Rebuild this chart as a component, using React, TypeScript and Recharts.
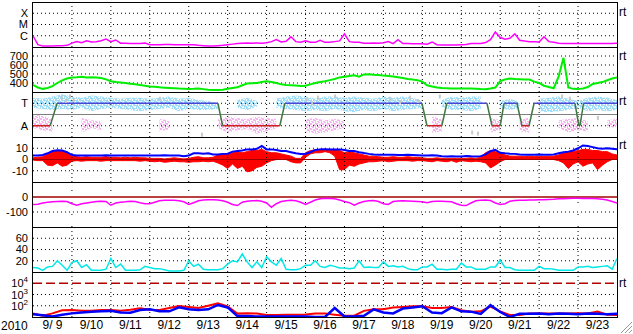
import React from 'react';
import { ComposedChart, Line, Area, Scatter, XAxis, YAxis, ReferenceLine } from 'recharts';

// ---------- categories / ticks ----------
const DAY_LABELS = ['9/ 9', '9/10', '9/11', '9/12', '9/13', '9/14', '9/15', '9/16', '9/17', '9/18', '9/19', '9/20', '9/21', '9/22', '9/23'];
const YEAR_LABEL = '2010';
const XRAY_TICKS = [1e-4, 1e-5, 1e-6];
const XRAY_CLASSES = ['X', 'M', 'C'];
const SPEED_TICKS = [700, 600, 500, 400];
const SECTOR_TICKS = [3, 1];
const SECTOR_NAMES = ['T', 'A'];
const B_TICKS = [10, 0, -10];
const DST_TICKS = [0, -100];
const P6_TICKS = [60, 40, 20];
const FLUX_TICKS = [1e4, 1e3, 1e2];

// ---------- 3-hour series (121 samples, 9/9 00UT .. 9/24 00UT) ----------
const XRAY = [
  1.0e-6, 1.6e-7, 1.2e-7, 1.2e-7, 1.2e-7, 1.3e-7, 1.3e-7, 1.4e-7,
  2.2e-7, 3.0e-7, 2.4e-7, 3.6e-7, 2.8e-7, 3.0e-7, 3.6e-7, 5.0e-7,
  3.0e-7, 4.2e-7, 2.2e-7, 2.2e-7, 2.1e-7, 2.1e-7, 2.1e-7, 2.3e-7,
  1.6e-7, 1.6e-7, 1.6e-7, 1.7e-7, 1.7e-7, 1.6e-7, 1.6e-7, 1.6e-7,
  1.6e-7, 1.6e-7, 1.4e-7, 1.3e-7, 1.2e-7, 1.2e-7, 1.3e-7, 1.4e-7,
  1.6e-7, 1.8e-7, 2.0e-7, 2.2e-7, 2.3e-7, 2.2e-7, 2.3e-7, 2.2e-7,
  2.4e-7, 3.0e-7, 4.5e-7, 2.8e-7, 3.2e-7, 8.0e-7, 3.0e-7, 2.6e-7,
  3.6e-7, 2.6e-7, 2.6e-7, 4.0e-7, 2.6e-7, 2.6e-7, 3.0e-7, 3.5e-7,
  1.5e-6, 3.0e-7, 2.6e-7, 2.6e-7, 2.2e-7, 2.2e-7, 2.3e-7, 2.2e-7,
  2.4e-7, 3.0e-7, 2.0e-7, 4.5e-7, 2.0e-7, 2.0e-7, 1.9e-7, 1.9e-7,
  1.9e-7, 1.8e-7, 2.8e-7, 1.6e-7, 1.5e-7, 1.5e-7, 1.5e-7, 1.5e-7,
  1.6e-7, 1.7e-7, 2.0e-7, 2.1e-7, 2.1e-7, 2.5e-7, 4.5e-7, 2.2e-6,
  7.0e-7, 5.0e-7, 6.0e-7, 1.5e-6, 4.0e-7, 3.4e-7, 3.0e-7, 3.0e-7,
  2.8e-7, 8.0e-7, 3.0e-7, 2.6e-7, 2.2e-7, 2.1e-7, 2.1e-7, 2.0e-7,
  2.1e-7, 2.1e-7, 2.0e-7, 2.1e-7, 2.1e-7, 2.0e-7, 2.1e-7, 2.1e-7,
  2.2e-7,
];
const SPEED = [
  378, 350, 335, 345, 365, 400, 430, 450,
  462, 465, 470, 462, 465, 462, 455, 440,
  420, 410, 405, 400, 392, 385, 378, 370,
  362, 358, 352, 348, 345, 342, 338, 336,
  334, 335, 338, 332, 325, 322, 322, 325,
  335, 345, 352, 375, 395, 398, 400, 412,
  420, 412, 400, 385, 378, 375, 372, 368,
  370, 385, 400, 412, 420, 432, 445, 462,
  470, 478, 485, 470, 495, 498, 492, 488,
  482, 478, 472, 465, 455, 445, 440, 430,
  415, 375, 362, 350, 345, 342, 340, 338,
  340, 340, 338, 336, 332, 330, 338, 350,
  420, 440, 450, 445, 442, 440, 438, 415,
  400, 370, 355, 342, 470, 680, 350, 335,
  332, 340, 355, 390, 400, 410, 430, 450,
  462,
];
const BT = [
  3.6, 3.6, 4, 5.5, 7.5, 8.2, 8, 6.5,
  4, 3.6, 3.6, 3.6, 3.5, 3.6, 3.6, 3.7,
  3.6, 3.6, 3.5, 3.6, 3.6, 3.6, 3.5, 3.5,
  3.6, 3.6, 3.6, 3.7, 3.6, 3.6, 3.5, 2.8,
  3.5, 5.5, 5.5, 5.2, 5.6, 4.5, 4.5, 5,
  5.2, 7, 7.5, 8, 9, 9, 9.5, 12,
  9, 9, 8.5, 7.5, 7.5, 6.5, 5.5, 5,
  5.2, 6.5, 8.5, 9, 9.2, 9, 9, 9,
  8.5, 7.5, 7.5, 6.5, 5.7, 5, 4.5, 4.2,
  4.2, 4.3, 4.2, 4, 4, 4.2, 4, 3.8,
  3.6, 3.6, 3.8, 3.6, 2.8, 2.7, 2.8, 2.6,
  2.7, 3, 2.8, 2.7, 3, 4.5, 7.5, 8.5,
  6, 5.5, 5.2, 5, 4.5, 4.2, 4.2, 4.2,
  4.4, 4.2, 4.2, 4.5, 5.5, 6.5, 7, 8,
  10, 12.5, 12, 11, 10, 9.5, 10, 9.5,
  9,
];
const BZ_MIN = [
  -0.5, -1, -1, -5, -5.5, -3, -6, -5,
  -1.5, -1, -1.5, -1, -1, -1, -1.5, -1,
  -1, -1, -1, -1, -1, -1, -1.5, -1,
  -1.5, -2, -1.5, -2.5, -2, -1.5, -2, -2,
  -2.5, -2, -2, -1.5, -2, -1.5, -3, -5,
  -8, -4, -8, -6, -11, -10, -7, -6,
  -3, -1, 0, 1, 0, -2, -3, -3,
  2, 5, 6, 6, 7, 6, 3, -9,
  -9, -5, -6, -4, -3, -2, -2, -1.5,
  -1, -2, -1.5, -1, -1, -1, -1.5, -1,
  -1, -1.5, -2, -1, -1.5, -2, -1, -2.5,
  -1, -1.5, -2, -1.5, -2, -3, -7.5, -5,
  -2, 0, 0, 0.5, 0, 0, 0, 0,
  0, 0, 0, 0, -1, -3, -8, -4,
  -2, -6, -4, -3, -9, -5, -2, 0,
  1,
];
const BZ_MAX = [
  1.5, 2, 2.5, 5, 7, 8, 7.5, 6,
  3, 2.5, 2, 2.5, 2, 2, 2, 2.5,
  2, 2, 1.5, 2, 1.5, 2, 1.5, 1.5,
  1, 1, 1, 0.5, 1, 1.5, 1, 0.5,
  1, 2, 2.5, 1.5, 1.5, 2, 4, 5,
  5, 6, 7, 6, 7, 8, 8, 9,
  7, 6, 6, 5, 4, 3, 1, 1,
  6, 8, 8.5, 9, 9, 9, 8.5, 8,
  6, 7, 6, 5, 4, 3, 3, 2.5,
  2, 2, 2.5, 2, 2, 2.5, 2, 2,
  1.5, 1, 1, 1.5, 1, 1, 1, 1,
  1, 1, 1.5, 1, 2, 6, 8, 7,
  6, 4, 3, 3, 3, 2.5, 3, 2.5,
  3, 2.5, 3, 3, 4, 6, 7, 7,
  8, 9, 9, 8, 8, 7, 7, 5,
  4,
];
const DST = [
  -50, -48, -40, -35, -32, -30, -28, -30,
  -45, -55, -45, -40, -35, -30, -28, -30,
  -55, -40, -35, -32, -28, -30, -38, -45,
  -45, -35, -25, -22, -22, -22, -25, -32,
  -50, -38, -25, -20, -18, -18, -20, -25,
  -35, -50, -57, -35, -28, -25, -24, -28,
  -40, -68, -45, -30, -25, -22, -25, -35,
  -50, -35, -20, -12, -8, -10, -12, -20,
  -30, -38, -55, -40, -30, -25, -24, -30,
  -45, -50, -30, -26, -25, -26, -28, -30,
  -32, -38, -30, -28, -28, -30, -32, -45,
  -55, -57, -40, -25, -22, -20, -24, -40,
  -50, -45, -28, -24, -22, -22, -20, -20,
  -18, -18, -16, -15, -12, -12, -10, -9,
  -8, -10, -8, -10, -12, -15, -20, -30,
  -40,
];
const PANEL6 = [
  8, 7, 3, 9, 10, 20, 12, 3,
  17, 20, 8, 13, 3, 3, 3, 5,
  24, 8, 14, 3, 3, 3, 4, 10,
  8, 6, 6, 4, 2, 2, 2, 3,
  20, 10, 14, 5, 4, 4, 4, 6,
  14, 20, 18, 32, 18, 8, 18, 8,
  27, 18, 12, 24, 5, 4, 4, 6,
  12, 12, 20, 10, 8, 12, 10, 7,
  7, 6, 7, 20, 8, 9, 8, 8,
  18, 10, 11, 9, 10, 6, 4, 4,
  9, 9, 14, 5, 5, 4, 5, 5,
  16, 9, 9, 5, 5, 5, 9, 9,
  21, 8, 8, 4, 3, 3, 3, 3,
  10, 6, 6, 5, 3, 3, 3, 3,
  9, 9, 10, 8, 9, 10, 11, 5,
  24,
];

// ---------- 6-hour series (61 samples) ----------
const CYAN_LO = [
  2.6, 2.5, 2.4, 2.5, 2.4, 2.6, 2.3, 2.5, 2.6, 2.5,
  2.4, 2.3, 2.4, 2.5, 2.6, 2.3, 2.5, 2.4, 2.4, 2.5,
  null, 2.6, 2.4, 2.7, null, 2.6, 2.5, 2.4, 2.3, 2.4,
  2.3, 2.5, 2.3, 2.2, 2.4, 2.3, 2.5, 2.3, 2.4, 2.5,
  2.6, null, 2.7, 2.4, 2.4, 2.3, 2.5, null, 2.6, 2.4,
  2.6, null, 2.3, 2.2, 2.3, 2.4, 2.6, 2.3, 2.4, 2.3,
  2.4,
];
const CYAN_HI = [
  3.5, 3.4, 3.6, 3.8, 3.6, 3.5, 3.7, 3.6, 3.5, 3.4,
  3.5, 3.5, 3.4, 3.5, 3.6, 3.4, 3.5, 3.3, 3.2, 3.0,
  null, 3.3, 3.5, 3.2, null, 3.4, 3.6, 3.7, 3.6, 3.4,
  3.6, 3.6, 3.5, 3.6, 3.5, 3.4, 3.6, 3.5, 3.6, 3.5,
  3.2, null, 3.3, 3.6, 3.5, 3.6, 3.6, null, 3.2, 3.4,
  3.1, null, 3.4, 3.5, 3.6, 3.4, 3.2, 3.5, 3.6, 3.5,
  3.3,
];
const PINK_LO = [
  0.8, 0.6, 0.5, null, null, 0.4, 0.8, 0.6, null, null,
  null, null, null, 0.5, 0.7, null, null, null, null, 0.8,
  0.4, 0.6, 0.7, 0.3, 0.5, 0.8, null, null, 0.5, 0.3,
  0.4, 0.6, 0.8, null, null, null, null, null, null, null,
  null, 0.4, 0.5, null, null, null, null, 0.4, 0.6, null,
  0.5, 0.4, null, null, 0.8, 0.4, 0.6, 0.5, null, 0.8,
  0.9,
];
const PINK_HI = [
  2.0, 1.9, 1.6, null, null, 1.7, 1.5, 1.4, null, null,
  null, null, null, 1.6, 1.5, null, null, null, null, 1.6,
  1.8, 1.7, 1.6, 1.8, 1.7, 1.6, null, null, 1.6, 1.7,
  1.5, 1.6, 1.5, null, null, null, null, null, null, null,
  null, 1.8, 1.6, null, null, null, null, 1.7, 1.5, null,
  1.6, 1.7, null, null, 1.5, 1.6, 1.7, 1.4, null, 1.5,
  1.6,
];
const E_RED = [
  21, 13, 21, 40, 42, 36, 36, 42, 42, 36,
  45, 59, 45, 42, 63, 95, 79, 63, 100, 166,
  89, 20, 22, 20, 15, 15, 16, 16, 17, 20,
  20, 16, 13, 13, 35, 48, 50, 71, 79, 89,
  89, 63, 63, 79, 40, 30, 32, 83, 32, 15,
  15, 20, 21, 21, 21, 21, 22, 21, 30, 16,
  15,
];
const E_BLUE = [
  18, 14, 11, 16, 21, 25, 30, 32, 35, 25,
  24, 42, 48, 32, 32, 72, 50, 42, 48, 117,
  71, 12, 12, 11, 11, 11, 11, 11, 11, 10,
  10, 63, 11, 11, 13, 48, 25, 21, 56, 71,
  89, 25, 22, 72, 32, 30, 19, 112, 28, 10,
  19, 19, 20, 18, 20, 19, 18, 20, 19, 18,
  19,
];

// ---------- sector polarity (breakpoints, day since 9/9 00UT; 3 = T, 1 = A) ----------
const SECTOR_DAYS = [0, 0.44, 0.62, 4.75, 4.87, 6.34, 6.47, 9.99, 10.12, 10.5, 10.63, 11.66, 11.79, 12.0, 12.1, 12.43, 12.56, 12.74, 12.87, 13.92, 14.02, 14.05, 14.14, 15];
const SECTOR_LEVELS = [1, 1, 3, 3, 1, 1, 3, 3, 1, 1, 3, 3, 1, 1, 3, 3, 1, 1, 3, 3, 1, 1, 3, 3];
const GRAY_DAYS = [0.74, 0.85, 0.95, 1.05, 3.26, 4.34, 7.01, 7.17, 7.32, 7.76, 9.17, 9.43, 9.68, 9.89, 10.45, 11.28, 11.43, 13.59, 13.79, 14.51];
const GRAY_LEVELS = [3.5, 3.2, 3.6, 3.3, 3.4, 0.2, 3.3, 3.0, 3.5, 3.6, 3.4, 3.1, 3.5, 3.2, 3.6, 0.4, 0.3, 3.6, 3.4, 1.7];

// ---------- layout ----------
const W = 633;
const FONT = '"Liberation Sans", Arial, Helvetica, sans-serif';
const tickStyle = { fontSize: 11, fill: '#000', fontFamily: FONT };
const xTickStyle = { fontSize: 12, fill: '#000', fontFamily: FONT };
const LABEL_TICKS = DAY_LABELS.map((_, i) => i + 0.5);
const DAY_GRID = DAY_LABELS.slice(1).map((_, i) => i + 1);
const PANEL_TOPS = [2, 47, 92, 137, 182, 227, 272];

const rows3h = XRAY.map((_, i) => ({
  d: i / 8,
  xray: XRAY[i],
  speed: SPEED[i],
  bt: BT[i],
  bz: [BZ_MIN[i], BZ_MAX[i]],
  dst: DST[i],
  p6: PANEL6[i],
}));
const rows6h = CYAN_LO.map((_, j) => ({
  d: j / 4,
  cyan: CYAN_LO[j] == null ? null : [CYAN_LO[j], CYAN_HI[j]],
  pink: PINK_LO[j] == null ? null : [PINK_LO[j], PINK_HI[j]],
  eRed: E_RED[j],
  eBlue: E_BLUE[j],
}));

function sectorSegments(kind: 'T' | 'A' | 'X') {
  const out: { d: number; v: number | null }[] = [];
  for (let k = 0; k < SECTOR_DAYS.length - 1; k++) {
    const a = SECTOR_LEVELS[k];
    const b = SECTOR_LEVELS[k + 1];
    const t = a === b ? (a === 3 ? 'T' : 'A') : 'X';
    if (t === kind) {
      out.push({ d: SECTOR_DAYS[k], v: a }, { d: SECTOR_DAYS[k + 1], v: b }, { d: SECTOR_DAYS[k + 1], v: null });
    }
  }
  return out;
}
const SEG_T = sectorSegments('T');
const SEG_A = sectorSegments('A');
const SEG_X = sectorSegments('X');
const GRAY_PTS = GRAY_DAYS.map((d, i) => ({ d, v: GRAY_LEVELS[i] }));

const PowerTick = (props: any) => {
  const { x, y, payload } = props;
  const e = Math.round(Math.log10(payload.value));
  return (
    <text x={x} y={y} dy={4} textAnchor="end" fontSize={11} fontFamily={FONT} fill="#000">
      10<tspan dy={-5} fontSize={8}>{e}</tspan>
    </text>
  );
};

type PanelProps = {
  top: number;
  height?: number;
  data?: any[];
  yDomain: [number, number];
  yScale?: 'log' | 'linear';
  yTicks: number[];
  yFormat?: (v: number) => string;
  yTick?: any;
  showX?: boolean;
  gridDash?: string;
  children?: React.ReactNode;
};

function Panel(p: PanelProps) {
  const h = p.height ?? 45;
  return (
    <div style={{ position: 'absolute', left: 0, top: p.top, width: W, height: h }}>
      <ComposedChart width={W} height={h} data={p.data} margin={{ top: 0, right: 16, bottom: 0, left: 0 }}>
        <XAxis
          type="number"
          dataKey="d"
          domain={[0, 15]}
          allowDataOverflow
          hide={!p.showX}
          ticks={LABEL_TICKS}
          interval={0}
          tickFormatter={(v: number) => DAY_LABELS[Math.round(v - 0.5)]}
          axisLine={false}
          tickLine={false}
          tickSize={0}
          tickMargin={3}
          height={17}
          tick={xTickStyle}
        />
        <YAxis
          type="number"
          scale={p.yScale ?? 'linear'}
          domain={p.yDomain}
          allowDataOverflow
          ticks={p.yTicks}
          interval={0}
          width={33}
          axisLine={false}
          tickLine={false}
          tickSize={0}
          tickMargin={5}
          tick={p.yTick ?? tickStyle}
          tickFormatter={p.yFormat}
        />
        {DAY_GRID.map((d) => (
          <ReferenceLine key={'g' + d} x={d} stroke="#000" strokeDasharray={p.gridDash ?? '1 3'} />
        ))}
        {p.children}
      </ComposedChart>
    </div>
  );
}

const dotted = { stroke: '#000', strokeDasharray: '1 3' };

export default function App() {
  const rt = (top: number) => (
    <div style={{ position: 'absolute', left: 619, top, fontSize: 12, fontFamily: FONT, lineHeight: '14px' }}>rt</div>
  );
  const cy = '#9fdcf8';
  const pk = '#f6b2ee';
  return (
    <div style={{ position: 'fixed', left: 0, top: 0, width: W, height: 334, background: '#fff', overflow: 'hidden' }}>
      <svg width={0} height={0} style={{ position: 'absolute' }}>
        <defs>
          <pattern id="cyanSpeckle" width={6} height={5} patternUnits="userSpaceOnUse">
            <rect x={0} y={0} width={2} height={2} fill={cy} />
            <rect x={2} y={1} width={2} height={1} fill={cy} />
            <rect x={4} y={0} width={1} height={2} fill={cy} />
            <rect x={5} y={2} width={1} height={2} fill={cy} />
            <rect x={1} y={2} width={2} height={2} fill={cy} />
            <rect x={3} y={3} width={2} height={1} fill={cy} />
            <rect x={0} y={4} width={1} height={1} fill={cy} />
            <rect x={4} y={4} width={2} height={1} fill={cy} />
            <rect x={2} y={4} width={1} height={1} fill="#c6ecfb" />
          </pattern>
          <pattern id="pinkSpeckle" width={6} height={5} patternUnits="userSpaceOnUse">
            <rect x={0} y={0} width={2} height={1} fill={pk} />
            <rect x={3} y={0} width={1} height={2} fill={pk} />
            <rect x={4} y={1} width={2} height={2} fill={pk} />
            <rect x={1} y={2} width={2} height={2} fill={pk} />
            <rect x={0} y={4} width={1} height={1} fill={pk} />
            <rect x={3} y={3} width={1} height={2} fill={pk} />
            <rect x={5} y={4} width={1} height={1} fill={pk} />
          </pattern>
        </defs>
      </svg>

      {/* X-ray */}
      <Panel top={PANEL_TOPS[0]} data={rows3h} yScale="log" yDomain={[1e-7, 1e-3]} yTicks={XRAY_TICKS}
        yFormat={(v) => XRAY_CLASSES[XRAY_TICKS.findIndex((t) => Math.abs(t - v) / t < 1e-6)] ?? ''}>
        {XRAY_TICKS.map((t) => <ReferenceLine key={t} y={t} {...dotted} />)}
        <Line type="linear" dataKey="xray" stroke="#ff00ff" strokeWidth={1.5} dot={false} isAnimationActive={false} />
      </Panel>

      {/* solar wind speed */}
      <Panel top={PANEL_TOPS[1]} data={rows3h} yDomain={[300, 800]} yTicks={SPEED_TICKS}>
        {SPEED_TICKS.map((t) => <ReferenceLine key={t} y={t} {...dotted} />)}
        <Line type="linear" dataKey="speed" stroke="#00ee00" strokeWidth={2} dot={false} isAnimationActive={false} />
      </Panel>

      {/* sector */}
      <Panel top={PANEL_TOPS[2]} data={rows6h} yDomain={[0, 4]} yTicks={SECTOR_TICKS}
        yFormat={(v) => SECTOR_NAMES[SECTOR_TICKS.indexOf(v)] ?? ''}>
        <Area type="linear" dataKey="cyan" stroke="none" fill="url(#cyanSpeckle)" fillOpacity={1} isAnimationActive={false} />
        <Area type="linear" dataKey="pink" stroke="none" fill="url(#pinkSpeckle)" fillOpacity={1} isAnimationActive={false} />
        <Scatter data={GRAY_PTS} dataKey="v" isAnimationActive={false}
          shape={(s: any) => <rect x={s.cx - 1} y={s.cy - 2} width={2} height={4} fill="#c8c8c8" />} />
        {SECTOR_TICKS.map((t) => <ReferenceLine key={t} y={t} {...dotted} />)}
        <ReferenceLine y={2} stroke="#808080" strokeWidth={1} />
        <Line data={SEG_T} type="linear" dataKey="v" stroke="#4848d8" strokeWidth={1.5} dot={false} connectNulls={false} isAnimationActive={false} />
        <Line data={SEG_A} type="linear" dataKey="v" stroke="#d02020" strokeWidth={1.5} dot={false} connectNulls={false} isAnimationActive={false} />
        <Line data={SEG_X} type="linear" dataKey="v" stroke="#407840" strokeWidth={1.5} dot={false} connectNulls={false} isAnimationActive={false} />
      </Panel>

      {/* IMF Bt / Bz */}
      <Panel top={PANEL_TOPS[3]} data={rows3h} yDomain={[-20, 20]} yTicks={B_TICKS}>
        <ReferenceLine y={10} {...dotted} />
        <ReferenceLine y={-10} {...dotted} />
        <Area type="linear" dataKey="bz" stroke="#ff0000" strokeWidth={1} fill="#ff0000" fillOpacity={1} isAnimationActive={false} />
        <Line type="linear" dataKey="bt" stroke="#0000ff" strokeWidth={2} dot={false} isAnimationActive={false} />
        <ReferenceLine y={0} stroke="#a00000" strokeWidth={1} />
      </Panel>

      {/* Dst */}
      <Panel top={PANEL_TOPS[4]} data={rows3h} yDomain={[-200, 100]} yTicks={DST_TICKS} gridDash="1 11">
        <ReferenceLine y={-100} {...dotted} />
        <ReferenceLine y={0} stroke="#a00000" strokeWidth={1.5} />
        <Line type="linear" dataKey="dst" stroke="#ff00ff" strokeWidth={1.5} dot={false} isAnimationActive={false} />
      </Panel>

      {/* panel 6 */}
      <Panel top={PANEL_TOPS[5]} data={rows3h} yDomain={[0, 80]} yTicks={P6_TICKS}>
        {P6_TICKS.map((t) => <ReferenceLine key={t} y={t} {...dotted} />)}
        <Line type="linear" dataKey="p6" stroke="#00e8e8" strokeWidth={1.5} dot={false} isAnimationActive={false} />
      </Panel>

      {/* electron flux */}
      <Panel top={PANEL_TOPS[6]} height={62} data={rows6h} yScale="log" yDomain={[10, 1e5]} yTicks={FLUX_TICKS} yTick={<PowerTick />} showX>
        <ReferenceLine y={1e4} stroke="#b00000" strokeWidth={1.5} strokeDasharray="9 4" />
        <ReferenceLine y={1e3} {...dotted} />
        <ReferenceLine y={1e2} {...dotted} />
        <Line type="linear" dataKey="eRed" stroke="#ff0000" strokeWidth={2} dot={false} isAnimationActive={false} />
        <Line type="linear" dataKey="eBlue" stroke="#0000ff" strokeWidth={2.5} dot={false} isAnimationActive={false} />
      </Panel>

      {/* frame and panel separators */}
      <div style={{ position: 'absolute', left: 32, top: 2, width: 586, height: 316, border: '1px solid #000', boxSizing: 'border-box', pointerEvents: 'none' }} />
      {PANEL_TOPS.slice(1).map((t) => (
        <div key={t} style={{ position: 'absolute', left: 32, top: t, width: 586, height: 1, background: '#000' }} />
      ))}

      {rt(5)}
      {rt(49)}
      {rt(94)}
      {rt(138)}
      {rt(276)}

      <div style={{ position: 'absolute', left: 1, top: 319, fontSize: 12, fontFamily: FONT, lineHeight: '14px' }}>{YEAR_LABEL}</div>

      <svg style={{ position: 'absolute', left: 617, top: 318 }} width={16} height={16}>
        {[4, 8, 12].map((o) => (
          <line key={o} x1={16 - o} y1={15} x2={15} y2={16 - o} stroke="#999" strokeWidth={1} />
        ))}
      </svg>
    </div>
  );
}
